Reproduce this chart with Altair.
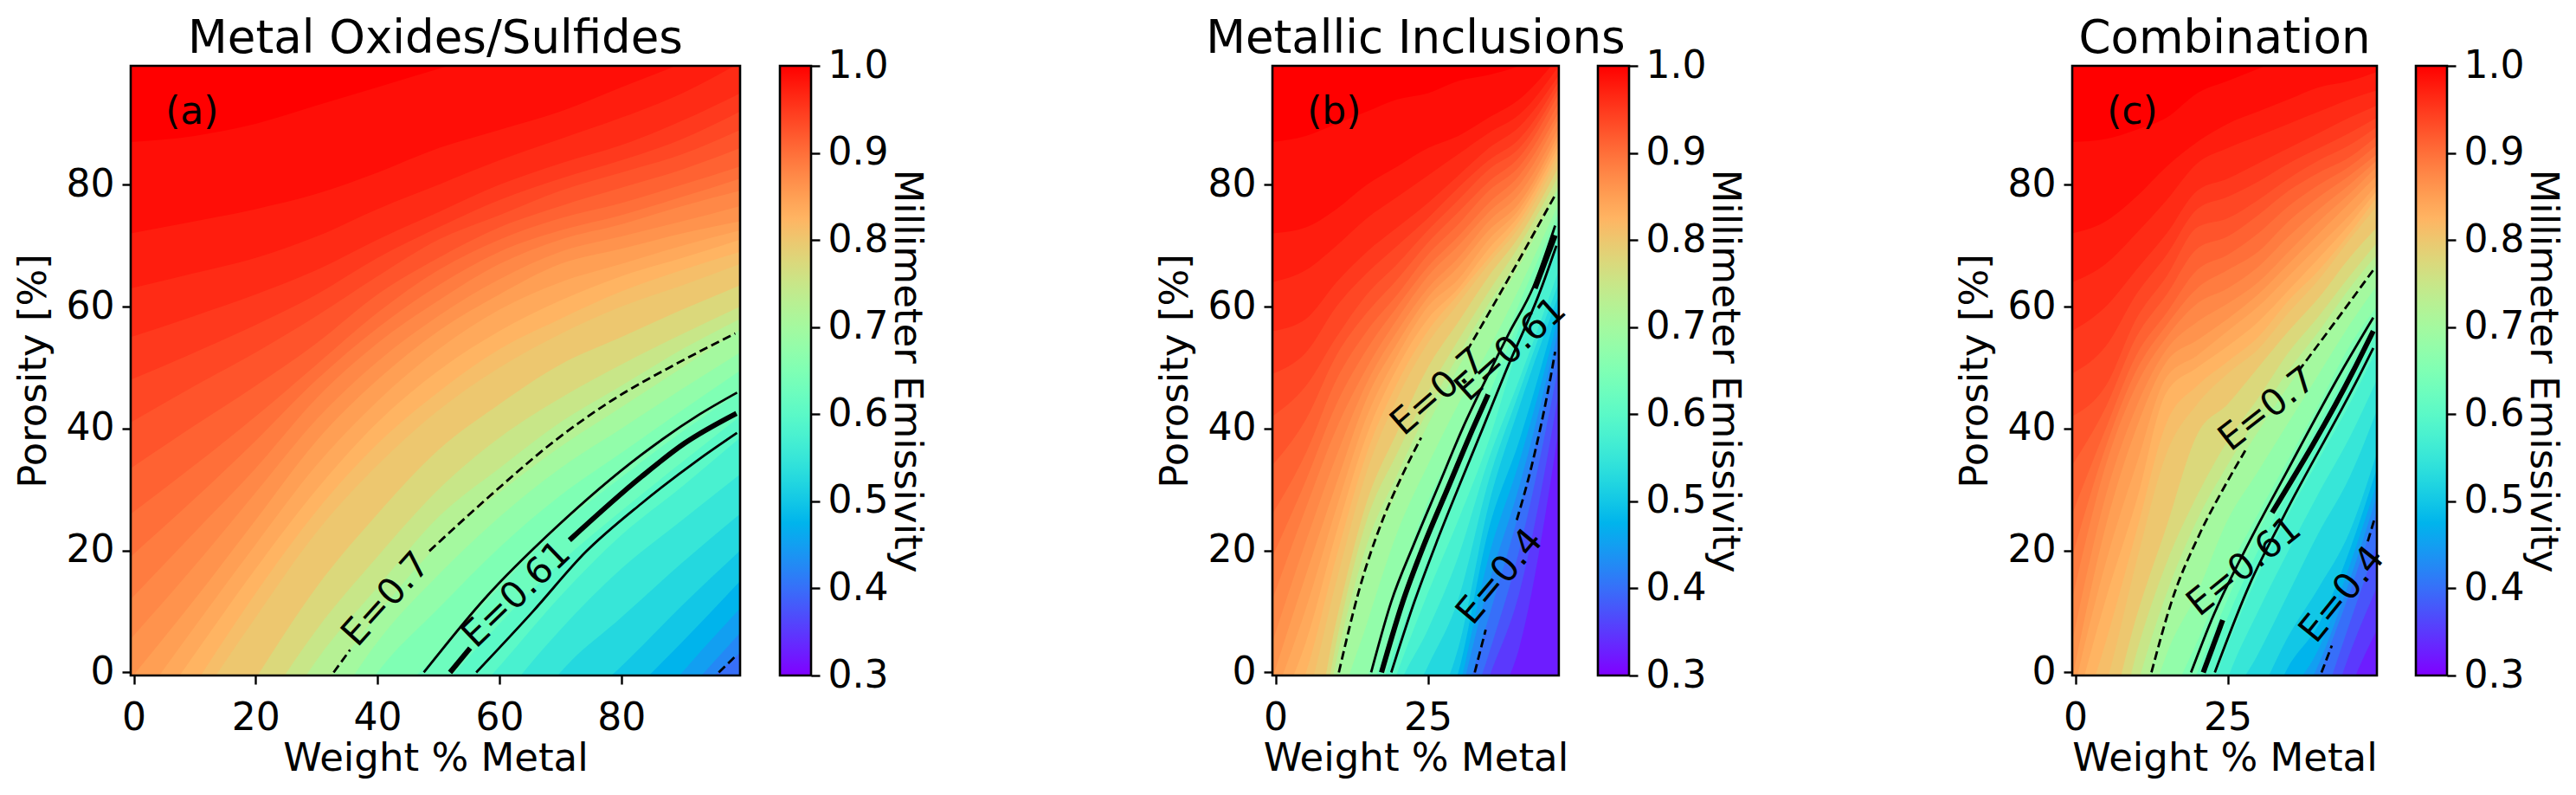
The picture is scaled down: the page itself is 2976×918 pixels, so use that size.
import math
import altair as alt
import pandas as pd

# ---- iso-emissivity levels (boundary porosity per column) ----
A_COLS = [-0.5, 10, 20, 30, 40, 50, 60, 70, 80, 90, 99.5]
A_LEVELS = {
    0.9875: [87, 88, 90, 93, 96, 99, 102, 105, 108, 111, 114],
    0.975: [72, 74, 76, 78.5, 82, 86, 89, 92, 96, 100, 105],
    0.9625: [63, 65.5, 68, 71.5, 76, 80, 84, 87.5, 91, 95, 100],
    0.95: [55, 58.5, 62, 66, 71, 75.5, 80, 83.5, 86.5, 90.5, 95],
    0.9375: [48, 52.5, 57, 62, 68, 73, 77.5, 81, 84, 87.5, 92],
    0.925: [41, 47, 52.5, 58.5, 65, 71, 75, 79, 82, 85, 89],
    0.9125: [33.5, 40.5, 47, 54, 62, 68, 73, 76.5, 79.5, 82.5, 86],
    0.9: [26, 34, 42, 50.5, 59, 66, 71, 74.5, 77, 80, 83],
    0.8875: [19, 28.5, 38, 48, 56.5, 63.5, 69, 72.5, 75, 78, 81],
    0.875: [12, 23, 33.5, 45, 54, 61, 67, 71, 73.5, 76.5, 79],
    0.8625: [5.5, 17.5, 29.5, 41.5, 51, 58.5, 64.5, 69, 71.5, 74, 76.5],
    0.85: [-1, 12, 25, 38, 48, 56, 62, 67, 69.5, 72, 74],
    0.8375: [-7, 7.5, 21, 34, 44.5, 53, 59.5, 64, 67, 70, 72.5],
    0.825: [-12, 3, 17, 30, 41, 49.5, 56, 61, 65, 68, 71],
    0.8125: [-18, -2, 13, 26.5, 37.5, 46, 53, 58, 62.5, 66, 69],
    0.8: [-25, -6, 9, 23, 34, 43, 50, 55.5, 60, 63.5, 67],
    0.775: [-35, -17, -1, 14, 26, 36.5, 44, 50.5, 55, 59.5, 63.5],
    0.75: [-45, -26, -8, 7, 19, 30, 38.5, 45, 50.5, 55.5, 60],
    0.725: [-55, -33, -14, 2, 14, 25.5, 33.5, 41, 47, 53, 58],
    0.7: [-65, -40, -20, -4, 9.5, 21, 29.5, 37, 43.5, 50, 56.2],
    0.675: [-70, -45, -26, -10, 5, 16, 25.5, 33.5, 40, 46.5, 52.5],
    0.65: [-75, -50, -34, -16, 0, 10.5, 20.5, 29, 36, 43, 49.5],
    0.625: [-80, -55, -40, -22, -7, 3, 14, 24, 32, 39.5, 46],
    0.6: [-85, -60, -45, -28, -14, -3, 8, 18, 26.5, 34.5, 42],
    0.575: [-90, -65, -50, -33, -22, -10, 1, 12.5, 22.5, 30.5, 38.5],
    0.55: [-95, -70, -55, -38, -28, -20, -5, 7, 17, 25, 32.5],
    0.525: [-100, -75, -60, -43, -33, -25, -14, 0, 9, 18, 26],
    0.5: [-100, -80, -65, -48, -38, -30, -20, -8, 1, 11, 20],
    0.475: [-100, -85, -70, -53, -43, -35, -25, -15, -5, 5, 15],
    0.45: [-100, -90, -75, -58, -48, -40, -30, -20, -12, 0, 10.5],
    0.425: [-100, -95, -80, -63, -53, -45, -35, -25, -15, -4, 6.5],
    0.4: [-100, -100, -85, -68, -58, -50, -40, -30, -20, -6, 3.2],
}
B_COLS = [-0.5, 5, 10, 15, 20, 25, 30, 35, 40, 46.5]
B_LEVELS = {
    0.9875: [87, 88, 90, 92, 94, 95, 97, 98, 99.5, 103],
    0.975: [72, 73, 76, 80, 83, 86, 88, 91, 94, 101],
    0.9625: [64, 66, 70, 74.5, 78, 81.5, 85, 88.5, 91.5, 99.5],
    0.95: [56, 58, 64, 69, 73, 77, 81.5, 86, 89.5, 98],
    0.9375: [49, 52.5, 60, 65.5, 70, 74.5, 79.5, 84, 87.5, 97],
    0.925: [42, 47, 55, 62, 67, 72.5, 77.5, 82.5, 86, 96],
    0.9125: [34, 41.5, 52, 59, 64.5, 70.5, 75.5, 80.5, 84.5, 95],
    0.9: [26, 36, 48, 56, 62, 68.5, 73.5, 79, 83, 93.5],
    0.8875: [19, 31.5, 44, 53, 60, 66.5, 71.5, 77, 81.5, 92],
    0.875: [12, 27, 40, 50, 58, 65, 70, 75.5, 80, 91],
    0.8625: [5, 21.5, 35.5, 47.5, 56, 63, 68, 74, 78.5, 89.5],
    0.85: [-1, 16, 31, 45, 54, 61.5, 66.5, 72.5, 77, 88.5],
    0.8375: [-5, 10.5, 27, 42, 52, 60, 64.5, 71, 76, 87.5],
    0.825: [-8, 5, 23, 39, 50, 58, 63, 69.5, 75, 86.5],
    0.8125: [-12, 0, 19, 36, 47.5, 56, 62, 68, 74, 85.5],
    0.8: [-15, -5, 15, 33, 45, 54, 60.5, 67, 73, 84.5],
    0.775: [-20, -15, 8.5, 28, 39.5, 50, 57.5, 65, 71.5, 83],
    0.75: [-30, -22, 5, 25, 36, 46, 54.5, 62.5, 70, 81.5],
    0.725: [-35, -25, 2, 21, 32.5, 43, 52, 60.5, 68, 80],
    0.7: [-40, -30, -1, 17.6, 29.8, 40.6, 50, 58.5, 66.6, 79.5],
    0.675: [-45, -35, -8, 8, 23, 34, 44, 53, 63, 77],
    0.65: [-50, -40, -12, -1, 14, 28, 38, 48.5, 60.5, 75.5],
    0.625: [-55, -45, -20, -5, 9, 23, 34, 45.5, 58, 74],
    0.6: [-60, -50, -25, -9, 5, 18.5, 30, 42.5, 56.5, 72.5],
    0.575: [-65, -55, -30, -14, 0, 13, 25, 38, 54, 70.5],
    0.55: [-70, -60, -35, -20, -3, 7, 19, 35, 48, 66],
    0.525: [-75, -65, -40, -25, -9, 1, 12, 31.5, 46, 64],
    0.5: [-80, -70, -45, -30, -15, -8, 4, 27.5, 43.5, 62],
    0.475: [-85, -75, -50, -35, -20, -12, 0, 23.5, 38, 60.5],
    0.45: [-90, -80, -55, -40, -25, -16, -3, 19, 34.5, 58.5],
    0.425: [-95, -85, -60, -45, -30, -20, -5, 14.5, 30.5, 56.5],
    0.4: [-100, -90, -65, -50, -35, -25, -8, 9, 26.4, 54],
    0.375: [-100, -95, -70, -55, -40, -30, -12, 3, 20, 50.5],
    0.35: [-100, -100, -75, -60, -45, -35, -16, -1, 13, 46],
    0.325: [-100, -100, -80, -65, -50, -40, -20, -7, 4, 40],
}
C_COLS = [-0.5, 5, 10, 15, 20, 25, 30, 35, 40, 45, 49.5]
C_LEVELS = {
    0.9875: [87, 87.5, 89, 91, 95, 97, 99, 101, 103, 105, 108],
    0.975: [72, 74, 78, 83, 87, 90, 92, 94, 96, 97, 98.5],
    0.9625: [64, 67, 72, 77.5, 83.5, 86, 88, 90, 92, 94, 95.5],
    0.95: [56, 60, 66, 72, 79, 81, 83.5, 86, 88.5, 91, 93],
    0.9375: [49, 53.5, 62, 68.5, 76, 78, 80.5, 83.5, 86, 88.5, 91],
    0.925: [42, 47, 58, 65, 73, 74.5, 77.5, 81, 84, 86.5, 89.5],
    0.9125: [34, 43.5, 55, 62, 69.5, 71.5, 75, 79, 82, 84.5, 88],
    0.9: [26, 40, 52, 59, 66, 68.5, 72, 76.5, 80, 83, 86.5],
    0.8875: [19, 37, 49.5, 57, 63, 66, 69, 74, 78, 81.5, 85],
    0.875: [12, 34, 47, 55, 60.5, 63, 66.5, 71.5, 76, 80, 84],
    0.8625: [5, 29, 43.5, 53, 57.5, 60.5, 64, 69, 74, 78.5, 83],
    0.85: [-1, 24, 40, 51, 54.5, 58, 62, 67, 72, 77, 81.5],
    0.8375: [-4, 18, 34, 48.5, 52, 56, 60, 65, 70, 75, 80],
    0.825: [-8, 12, 28, 46, 50, 53.5, 57.5, 62.7, 68, 73.5, 79],
    0.8125: [-12, 5, 23, 41, 47, 51, 55, 61, 66, 72, 78],
    0.8: [-15, -2, 18, 36, 44, 49, 53, 59, 64.5, 71, 76.5],
    0.775: [-25, -10, 9, 24, 39, 44, 50, 56, 61.5, 68, 73],
    0.75: [-30, -18, 3, 18, 29, 38, 45, 52.5, 58.5, 65, 70.5],
    0.725: [-35, -25, -3, 13, 25, 34, 42, 49.5, 56, 63, 68.5],
    0.7: [-40, -35, -9, 9, 21.8, 31.5, 39.5, 47, 54, 60.7, 67],
    0.675: [-45, -40, -14, 3, 13, 25, 33, 41, 49, 57, 63.5],
    0.65: [-50, -45, -20, -6, 5, 16.5, 26, 35, 44, 53.5, 60],
    0.625: [-55, -50, -25, -14, 0, 12, 23, 32, 41, 50, 58],
    0.6: [-60, -55, -30, -20, -4, 9, 20, 29.5, 38, 47, 56],
    0.575: [-65, -60, -35, -25, -9, 4.5, 16, 26, 35, 44, 53],
    0.55: [-70, -65, -40, -30, -17, -1, 10, 20, 29.5, 38.5, 48],
    0.525: [-75, -70, -45, -35, -22, -6, 3, 13, 23, 32, 43],
    0.5: [-80, -75, -50, -40, -28, -12, -4, 6, 14, 23, 36],
    0.475: [-85, -80, -55, -45, -33, -18, -10, 1, 8, 20, 33.5],
    0.45: [-90, -85, -60, -50, -38, -24, -14, -4, 4, 17.5, 31],
    0.425: [-95, -90, -65, -55, -43, -30, -18, -8, 1.5, 15, 29],
    0.4: [-100, -95, -70, -60, -48, -35, -25, -18, -1, 13, 26.5],
    0.375: [-100, -100, -75, -65, -53, -40, -30, -22, -7, 8, 21],
    0.35: [-100, -100, -80, -70, -58, -45, -35, -26, -12, 3, 14],
    0.325: [-100, -100, -85, -75, -63, -50, -40, -30, -18, -3, 7],
}

# ---- contour lines: (style, [w...], [p...]) ----
A_LINES = [
    ("dash", [32.8, 35.5], [0, 3.7]),
    ("dash", [48.5, 58.5, 69.1, 78.6, 89, 98.7], [19.9, 29, 38, 44.7, 50.6, 55.6]),
    ("thin", [47.6, 57.5, 69.1, 83.3, 92.8, 99], [0, 12, 23.6, 35.7, 42.3, 45.9]),
    ("thin", [56.2, 65.5, 74.1, 83.3, 92.8, 99], [0, 10, 19.7, 27.7, 35, 39.3]),
    ("thick", [51.9, 55.2], [0, 4]),
    ("thick", [71.5, 83.3, 90.4, 98.9], [21.7, 32.1, 37.6, 42.5]),
    ("dash", [96, 98.9], [0, 2.8]),
]
B_LINES = [
    ("dash", [10.4, 13.7, 17.7, 20.6, 23.9], [0, 13.4, 25.3, 31.9, 38.5]),
    ("dash", [31.4, 36.6, 45.9], [52.7, 61.7, 78.3]),
    ("thin", [15.7, 19, 22.7, 26.7, 30.7, 35.2, 38.3, 42.3, 45.9], [0, 11.6, 21, 30.5, 40, 49.4, 55.6, 63.2, 73.3]),
    ("thick", [17.4, 20.9, 24.4, 28.4, 32.4, 34.9], [0, 11.6, 21, 30.5, 40, 45.6]),
    ("thick", [42.6, 45.9], [63, 71.7]),
    ("thin", [19, 22.8, 26.3, 30.1, 34, 37.8, 43.5, 46.1], [0, 11.6, 21, 30.5, 40, 49.4, 62.7, 70]),
    ("dash", [32.7, 34.5], [0, 7]),
    ("dash", [39.6, 41.9, 45.2, 45.9], [25, 33.3, 48.7, 52.6]),
]
C_LINES = [
    ("dash", [12.5, 15.8, 20.5, 24.5, 27.9], [0, 11.6, 22.9, 30.5, 36.4]),
    ("dash", [36.6, 42.8, 48.9], [49.4, 57.7, 66]),
    ("thin", [19, 22.4, 28.6, 34.7, 43.7, 48.9], [0, 8.7, 21.5, 32.9, 49.4, 58.2]),
    ("thick", [21, 24.2], [0, 8.6]),
    ("thick", [32.3, 45.6, 48.9], [26.2, 49.4, 56]),
    ("thin", [22.9, 28.6, 34.3, 47, 48.9], [0, 14.4, 25.8, 49.4, 53.2]),
    ("dash", [40.4, 42.1], [0, 4.4]),
    ("dash", [48, 49.2], [21.5, 25.5]),
]

# ---- contour labels: text, w, p, angle ----
A_LABELS = [("E=0.7", 41.4, 12, 312), ("E=0.61", 62.8, 12.8, 316)]
B_LABELS = [("E=0.7", 26.7, 46, 319), ("E=0.61", 38.6, 53, 318), ("E=0.4", 36.8, 15.7, 310)]
C_LABELS = [("E=0.7", 31.5, 43.2, 322), ("E=0.61", 27.7, 17.4, 321), ("E=0.4", 43.8, 12.8, 309)]

TITLES = ["Metal Oxides/Sulfides", "Metallic Inclusions", "Combination"]
TAGS = ["(a)", "(b)", "(c)"]
Y_TICKS = [0, 20, 40, 60, 80]
A_X_TICKS = [0, 20, 40, 60, 80]
BC_X_TICKS = [0, 25]
CB_TICKS = [0.3, 0.4, 0.5, 0.6, 0.7, 0.8, 0.9, 1.0]

FONT = "DejaVu Sans"
H = 704
UNIT = 7.04


def rainbow(e):
    t = (e - 0.3) / 0.7
    r = min(abs(2 * t - 0.5), 1)
    g = math.sin(math.pi * t)
    b = math.cos(math.pi * t / 2)
    return "#%02x%02x%02x" % tuple(round(max(c, 0) * 255) for c in (r, g, b))


STOPS = [0.3 + 0.7 * i / 28 for i in range(29)]
COLORS = [rainbow(e) for e in STOPS]
color_scale = alt.Scale(domain=STOPS, range=COLORS, interpolate="rgb")


def panel(cols, levels, lines, labels, title, tag, xmax, xticks, title_pad):
    W = (xmax + 0.5) * UNIT
    sx = alt.Scale(domain=[-0.5, xmax], nice=False, zero=False)
    sy = alt.Scale(domain=[-0.5, 99.5], nice=False, zero=False)
    ax = alt.Axis(values=xticks, title="Weight % Metal", titlePadding=2, labelPadding=17)
    ay = alt.Axis(values=Y_TICKS, title="Porosity [%]", titlePadding=title_pad, labelPadding=9)
    rows = []
    for lev in sorted(levels, reverse=True):
        for w, p in zip(cols, levels[lev]):
            rows.append({"w": w, "p": p, "E": lev})
    one = alt.Data(values=[{"a": 1}])
    base = alt.Chart(one).mark_rect(color=COLORS[-1]).encode(
        x=alt.value(0), x2=alt.value(W), y=alt.value(0), y2=alt.value(H))
    bands = alt.Chart(pd.DataFrame(rows)).mark_area(clip=True, interpolate="monotone").encode(
        x=alt.X("w:Q", scale=sx, axis=ax),
        y=alt.Y("p:Q", scale=sy, axis=ay, stack=None),
        y2=alt.datum(-0.5),
        color=alt.Color("E:Q", scale=color_scale, legend=None),
    )
    layers = [base, bands]
    styles = {"dash": dict(strokeWidth=2.8, strokeDash=[10, 5]),
              "thin": dict(strokeWidth=2.8),
              "thick": dict(strokeWidth=6)}
    for i, (style, ws, ps) in enumerate(lines):
        df = pd.DataFrame({"w": ws, "p": ps})
        layers.append(alt.Chart(df).mark_line(color="black", clip=True, interpolate="monotone", **styles[style]).encode(
            x=alt.X("w:Q", scale=sx, axis=ax), y=alt.Y("p:Q", scale=sy, axis=ay)))
    for text, w, p, ang in labels:
        df = pd.DataFrame({"w": [w], "p": [p], "t": [text]})
        layers.append(alt.Chart(df).mark_text(font=FONT, fontSize=42, angle=ang, color="black").encode(
            x=alt.X("w:Q", scale=sx, axis=ax), y=alt.Y("p:Q", scale=sy, axis=ay), text="t:N"))
    tagdf = pd.DataFrame({"w": [5.2], "p": [90], "t": [tag]})
    layers.append(alt.Chart(tagdf).mark_text(font=FONT, fontSize=44, align="left", baseline="alphabetic", color="black").encode(
        x=alt.X("w:Q", scale=sx, axis=ax), y=alt.Y("p:Q", scale=sy, axis=ay), text="t:N"))
    frame = alt.Chart(one).mark_rect(fill="transparent", stroke="black", strokeWidth=2.6).encode(
        x=alt.value(0), x2=alt.value(W), y=alt.value(0), y2=alt.value(H))
    layers.append(frame)
    return alt.layer(*layers).properties(
        width=W, height=H,
        title=alt.TitleParams(title, fontSize=53, font=FONT, fontWeight="normal", color="black", anchor="middle", offset=3),
    )


def colorbar():
    grad = alt.LinearGradient(gradient="linear", x1=0, x2=0, y1=1, y2=0,
                              stops=[alt.GradientStop(offset=i / 28, color=c) for i, c in enumerate(COLORS)])
    df = pd.DataFrame({"lo": [0.3], "hi": [1.0]})
    bar = alt.Chart(df).mark_rect(color=grad, stroke="black", strokeWidth=2.6).encode(
        x=alt.value(0), x2=alt.value(36),
        y=alt.Y("lo:Q", scale=alt.Scale(domain=[0.3, 1.0], nice=False, zero=False),
                axis=alt.Axis(orient="right", values=CB_TICKS, format=".1f", labelPadding=9,
                              title="Millimeter Emissivity", titleAngle=90, titlePadding=22, titleBaseline="middle")),
        y2="hi:Q",
    )
    return bar.properties(width=36, height=H)


pa = panel(A_COLS, A_LEVELS, A_LINES, A_LABELS, TITLES[0], TAGS[0], 99.5, A_X_TICKS, 15)
pb = panel(B_COLS, B_LEVELS, B_LINES, B_LABELS, TITLES[1], TAGS[1], 46.5, BC_X_TICKS, 15)
pc = panel(C_COLS, C_LEVELS, C_LINES, C_LABELS, TITLES[2], TAGS[2], 49.5, BC_X_TICKS, 15)

# with flush bounds a nested concat counts as zero wide, so these spacings run origin to origin
ga = alt.hconcat(pa, colorbar(), spacing=46, bounds="flush")
gb = alt.hconcat(pb, colorbar(), spacing=45, bounds="flush")
gc = alt.hconcat(pc, colorbar(), spacing=45, bounds="flush")
rest = alt.hconcat(gb, gc, spacing=924, bounds="flush")
chart = alt.hconcat(ga, rest, spacing=1319, bounds="flush").properties(
    padding={"left": 8, "top": 10, "right": 5, "bottom": 5}, background="white",
).configure_view(stroke=None).configure_axis(
    labelFont=FONT, titleFont=FONT, labelFontSize=44, titleFontSize=45,
    titleFontWeight="normal", labelColor="black", titleColor="black",
    tickColor="black", tickWidth=2.4, tickSize=10,
    grid=False, domain=False, labelOverlap=False, labelFlush=False, labelBound=False,
)

chart.save("out.html", embed_options={"renderer": "svg", "actions": False})
